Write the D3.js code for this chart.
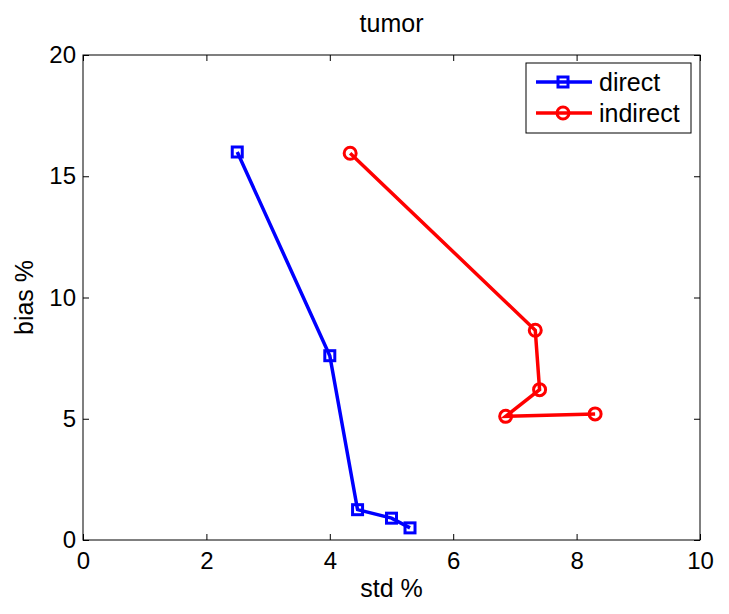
<!DOCTYPE html>
<html><head><meta charset="utf-8">
<script src="https://cdn.jsdelivr.net/npm/d3@7"></script>
<style>body{margin:0;background:#fff;} text{font-family:"Liberation Sans",Arial,sans-serif;}</style>
</head><body>
<script>
const directX = [2.5, 4.0, 4.45, 5.0, 5.3];
const directY = [16.0, 7.6, 1.25, 0.9, 0.5];
const indirectX = [4.33, 7.33, 7.4, 6.85, 8.3];
const indirectY = [15.95, 8.65, 6.2, 5.1, 5.2];
const xTicks = [0, 2, 4, 6, 8, 10];
const yTicks = [0, 5, 10, 15, 20];

const W = 729, H = 614;
const m = {left: 83, right: 29, top: 55, bottom: 74};
const svg = d3.select("body").append("svg").attr("width", W).attr("height", H);
const x = d3.scaleLinear().domain([0, 10]).range([m.left, W - m.right]);
const y = d3.scaleLinear().domain([0, 20]).range([H - m.bottom, m.top]);

svg.append("rect").attr("x", m.left).attr("y", m.top)
  .attr("width", x(10) - x(0)).attr("height", y(0) - y(20))
  .attr("fill", "#fff").attr("stroke", "#000").attr("stroke-width", 1);

const tl = 6;
const fs = "24px";
svg.append("g").attr("transform", `translate(0,${y(0)})`)
  .call(d3.axisBottom(x).tickValues(xTicks).tickSizeInner(-tl).tickSizeOuter(0).tickPadding(12))
  .call(g => { g.select(".domain").remove(); g.selectAll("text").attr("font-size", fs).attr("font-family", "Liberation Sans, Arial").attr("fill", "#000"); });
svg.append("g").attr("transform", `translate(0,${y(20)})`)
  .call(d3.axisTop(x).tickValues(xTicks).tickSizeInner(-tl).tickSizeOuter(0).tickFormat(""))
  .call(g => g.select(".domain").remove());
svg.append("g").attr("transform", `translate(${x(0)},0)`)
  .call(d3.axisLeft(y).tickValues(yTicks).tickSizeInner(-tl).tickSizeOuter(0).tickPadding(7))
  .call(g => { g.select(".domain").remove(); g.selectAll("text").attr("font-size", fs).attr("font-family", "Liberation Sans, Arial").attr("fill", "#000"); });
svg.append("g").attr("transform", `translate(${x(10)},0)`)
  .call(d3.axisRight(y).tickValues(yTicks).tickSizeInner(-tl).tickSizeOuter(0).tickFormat(""))
  .call(g => g.select(".domain").remove());

const line = d3.line().x(d => x(d[0])).y(d => y(d[1]));
const dData = directX.map((v, i) => [v, directY[i]]);
const iData = indirectX.map((v, i) => [v, indirectY[i]]);

svg.append("path").datum(dData).attr("d", line).attr("fill", "none").attr("stroke", "#0000ff").attr("stroke-width", 3.5);
svg.selectAll(".sq").data(dData).enter().append("rect")
  .attr("x", d => x(d[0]) - 5).attr("y", d => y(d[1]) - 5).attr("width", 10).attr("height", 10)
  .attr("fill", "none").attr("stroke", "#0000ff").attr("stroke-width", 3);

svg.append("path").datum(iData).attr("d", line).attr("fill", "none").attr("stroke", "#ff0000").attr("stroke-width", 3.5);
svg.selectAll(".ci").data(iData).enter().append("circle")
  .attr("cx", d => x(d[0])).attr("cy", d => y(d[1])).attr("r", 6)
  .attr("fill", "none").attr("stroke", "#ff0000").attr("stroke-width", 3);

const lg = svg.append("g");
lg.append("rect").attr("x", 526).attr("y", 63).attr("width", 165).attr("height", 70)
  .attr("fill", "#fff").attr("stroke", "#000").attr("stroke-width", 1);
const items = [{name: "direct", c: "#0000ff", m: "sq"}, {name: "indirect", c: "#ff0000", m: "ci"}];
items.forEach((it, i) => {
  const cy = 82 + i * 31;
  lg.append("line").attr("x1", 536).attr("x2", 592).attr("y1", cy).attr("y2", cy).attr("stroke", it.c).attr("stroke-width", 3.5);
  if (it.m === "sq") lg.append("rect").attr("x", 558).attr("y", cy - 5).attr("width", 10).attr("height", 10).attr("fill", "none").attr("stroke", it.c).attr("stroke-width", 3);
  else lg.append("circle").attr("cx", 563).attr("cy", cy).attr("r", 6).attr("fill", "none").attr("stroke", it.c).attr("stroke-width", 3);
  lg.append("text").attr("x", 599).attr("y", cy + 9).attr("font-size", "25px").text(it.name);
});

svg.append("text").attr("x", (x(0) + x(10)) / 2).attr("y", 32).attr("text-anchor", "middle").attr("font-size", "25px").text("tumor");
svg.append("text").attr("x", (x(0) + x(10)) / 2).attr("y", 597).attr("text-anchor", "middle").attr("font-size", "25px").text("std %");
svg.append("text").attr("transform", `translate(33,${(y(0) + y(20)) / 2}) rotate(-90)`).attr("text-anchor", "middle").attr("font-size", "25px").text("bias %");
</script>
</body></html>
